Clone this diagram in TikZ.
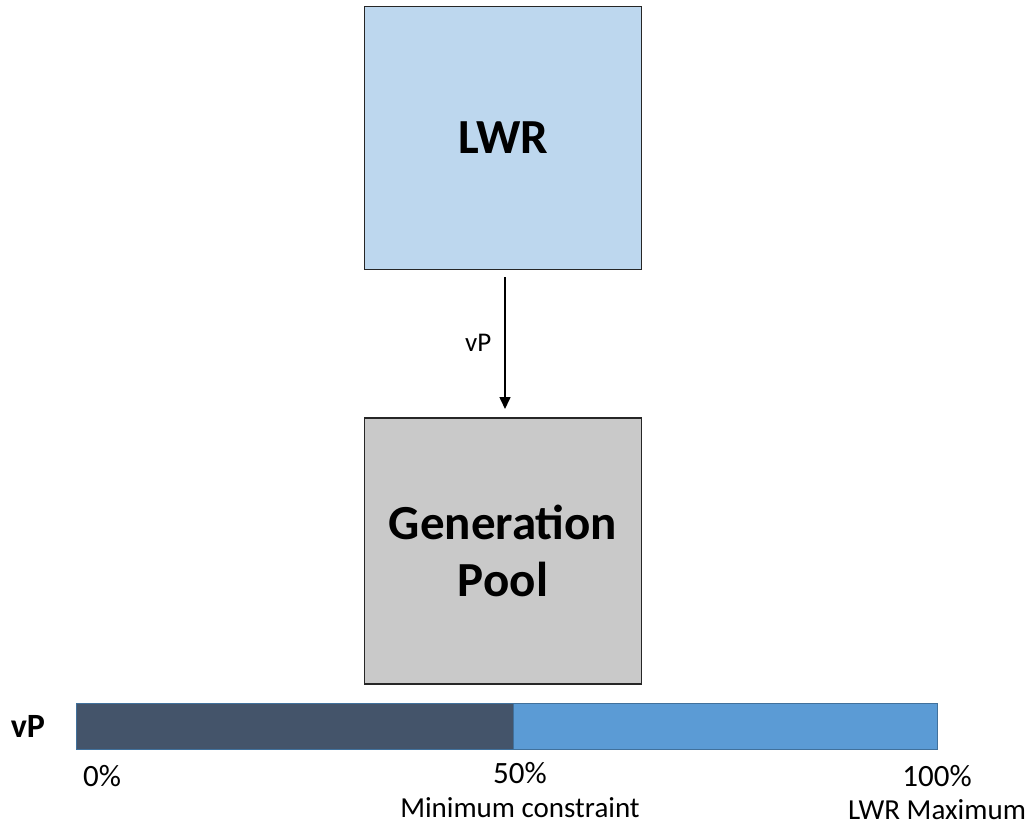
\documentclass[tikz,border=0pt]{standalone}
\usepackage{fontspec}
\setmainfont{Carlito}
\usetikzlibrary{arrows.meta}
\definecolor{lwrfill}{HTML}{BDD7EE}
\definecolor{poolfill}{HTML}{C9C9C9}
\definecolor{bardark}{HTML}{44546A}
\definecolor{barlight}{HTML}{5B9BD5}
\definecolor{baredge}{HTML}{41719C}
\tikzset{
  block/.style={draw=black!85, line width=1.4pt, minimum width=277pt, align=center,
    font=\fontsize{49}{57}\selectfont\bfseries, inner sep=0pt},
  seg/.style={draw=baredge, line width=1pt, inner sep=0pt, minimum height=46pt},
  tick/.style={font=\fontsize{31}{36}\selectfont, inner sep=0pt},
  note/.style={font=\fontsize{29}{34}\selectfont, inner sep=0pt},
  flow/.style={-{Triangle[length=12pt,width=11pt]}, line width=1.6pt}
}
\begin{document}
\begin{tikzpicture}[x=1pt,y=-1pt]
  \useasboundingbox (0,0) rectangle (1031,829);
  % the two blocks
  \node[block, fill=lwrfill, minimum height=263pt] (lwr) at (503,138) {LWR};
  \node[block, fill=poolfill, minimum height=266pt] (pool) at (503,551) {Generation\\Pool};
  % flow between them
  \coordinate (src) at (505,277);
  \coordinate (dst) at (505,409);
  \draw[flow] (src) -- node[left=13pt, font=\fontsize{27}{32}\selectfont, inner sep=0pt] (vplbl) {vP} (dst);
  % proportion bar
  \node[seg, fill=bardark, minimum width=437pt, anchor=west] (lo) at (76,726) {};
  \node[seg, fill=barlight, minimum width=424pt, anchor=west] (hi) at (513,726) {};
  \node[font=\fontsize{34}{39}\selectfont\bfseries, inner sep=0pt] (vp) at (28,726) {vP};
  % scale labels
  \node[tick] (p0) at (102,776) {0\%};
  \node[tick] (p50) at (520,773) {50\%};
  \node[tick] (p100) at (937,776) {100\%};
  \node[note] (minc) at (520,808) {Minimum constraint};
  \node[note] (maxc) at (937,810) {LWR Maximum};
\end{tikzpicture}
\end{document}
